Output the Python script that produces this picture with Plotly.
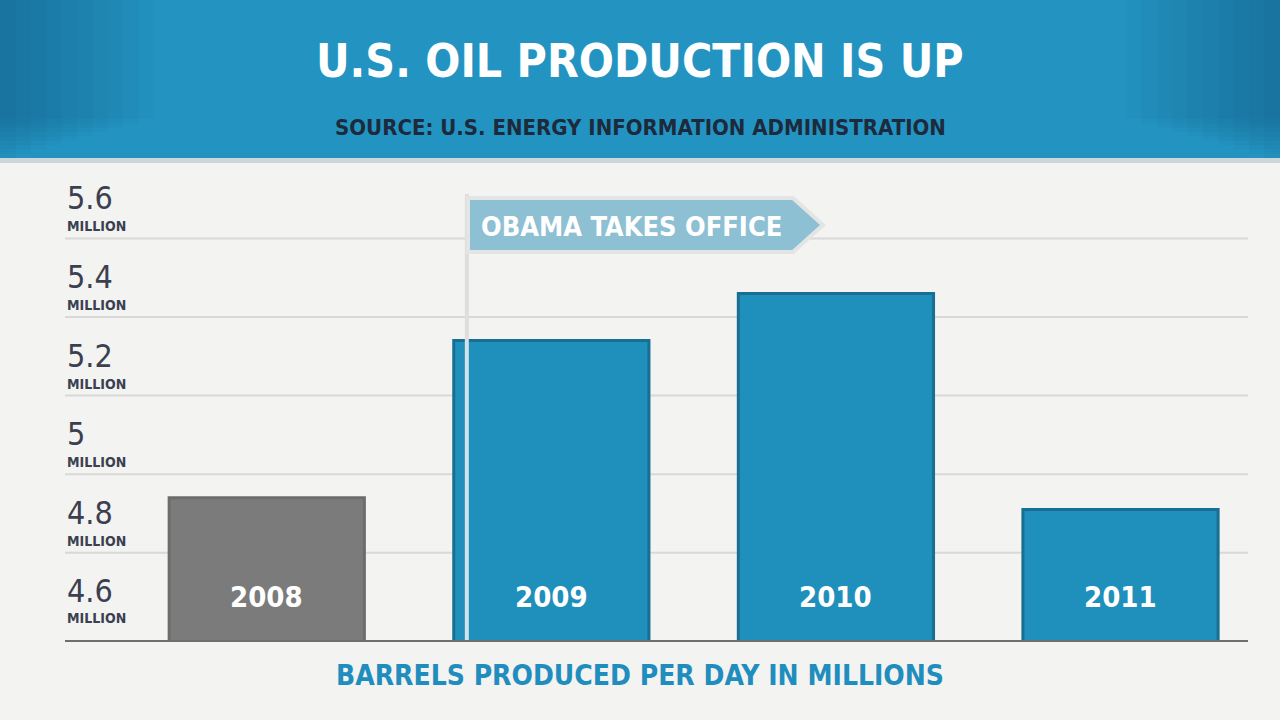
import plotly.graph_objects as go

# ---- data ----
years = ["2008", "2009", "2010", "2011"]
barrels_millions = [4.94, 5.34, 5.46, 4.91]
bar_colors = ["#7b7b7b", "#1f8fbb", "#1f8fbb", "#1f8fbb"]
bar_line_colors = ["#6c6c6c", "#196f93", "#196f93", "#196f93"]
tick_values = [4.6, 4.8, 5.0, 5.2, 5.4, 5.6]
tick_labels = ["4.6", "4.8", "5", "5.2", "5.4", "5.6"]
tick_unit = "MILLION"
grid_values = [4.8, 5.0, 5.2, 5.4, 5.6]
event_label = "OBAMA TAKES OFFICE"
event_x = 0.703

title = "U.S. OIL PRODUCTION IS UP"
subtitle = "SOURCE: U.S. ENERGY INFORMATION ADMINISTRATION"
footer = "BARRELS PRODUCED PER DAY IN MILLIONS"

Y_MIN, Y_MAX = 4.578, 5.774
FONT = "DejaVu Sans Condensed, Liberation Sans Narrow, sans-serif"

fig = go.Figure()
fig.add_trace(go.Bar(
    x=years, y=barrels_millions, width=0.686,
    marker=dict(color=bar_colors, line=dict(color=bar_line_colors, width=3)),
    hoverinfo="x+y", showlegend=False,
))

HB = 1 - 158 / 720
shapes = []
# header band
shapes.append(dict(type="rect", xref="paper", yref="paper", x0=0, x1=1, y0=HB, y1=1,
                   fillcolor="#2394c1", line=dict(width=0), layer="below"))
for i in range(10):
    w = 0.012 + 0.012 * i
    shapes.append(dict(type="rect", xref="paper", yref="paper", x0=0, x1=w, y0=HB + 0.006 * i, y1=1,
                       fillcolor="#0f4a6e", opacity=0.05, line=dict(width=0), layer="below"))
    shapes.append(dict(type="rect", xref="paper", yref="paper", x0=1 - w, x1=1, y0=HB + 0.006 * i, y1=1,
                       fillcolor="#0f4a6e", opacity=0.05, line=dict(width=0), layer="below"))
shapes.append(dict(type="rect", xref="paper", yref="paper", x0=0, x1=1, y0=1 - 163 / 720, y1=HB,
                   fillcolor="#cfd6d9", line=dict(width=0), layer="below"))
# grid lines
for g in grid_values:
    shapes.append(dict(type="line", xref="paper", yref="y", x0=65 / 1280, x1=1248 / 1280, y0=g, y1=g,
                       line=dict(color="#d8d8d6", width=2), layer="below"))
# event marker line
shapes.append(dict(type="line", xref="x", yref="paper", x0=event_x, x1=event_x, y0=0.1111, y1=1 - 194 / 720,
                   line=dict(color="#dedede", width=4), layer="above"))
shapes.append(dict(type="line", xref="x", yref="paper", x0=event_x, x1=event_x, y0=0.1111, y1=1 - 340 / 720,
                   line=dict(color="#bfeaf5", width=1.5), layer="above"))
# banner arrow
bx0, bx1, btip = 468 / 1280, 793 / 1280, 823 / 1280
by0, by1, bmid = 1 - 252 / 720, 1 - 198 / 720, 1 - 225 / 720
shapes.append(dict(type="path", xref="paper", yref="paper",
                   path=f"M {bx0} {by0} L {bx1} {by0} L {btip} {bmid} L {bx1} {by1} L {bx0} {by1} Z",
                   fillcolor="#8ec0d4", line=dict(color="#e3e4e4", width=4), layer="above"))

annotations = []
annotations.append(dict(text=f"<b>{title}</b>", xref="paper", yref="paper", x=0.5, y=1 - 61 / 720,
                        showarrow=False, font=dict(family=FONT, size=46, color="#ffffff"),
                        xanchor="center", yanchor="middle"))
annotations.append(dict(text=f"<b>{subtitle}</b>", xref="paper", yref="paper", x=0.5, y=1 - 127 / 720,
                        showarrow=False, font=dict(family=FONT, size=22, color="#1c2a3c"),
                        xanchor="center", yanchor="middle"))
annotations.append(dict(text=f"<b>{footer}</b>", xref="paper", yref="paper", x=0.5, y=1 - 675 / 720,
                        showarrow=False, font=dict(family=FONT, size=28, color="#1f8dbd"),
                        xanchor="center", yanchor="middle"))
annotations.append(dict(text=f"<b>{event_label}</b>", xref="paper", yref="paper", x=631 / 1280, y=1 - 226 / 720,
                        showarrow=False, font=dict(family=FONT, size=27, color="#ffffff"),
                        xanchor="center", yanchor="middle"))
for v, lab in zip(tick_values, tick_labels):
    base = max(v, Y_MIN)
    annotations.append(dict(text=lab, xref="paper", yref="y", x=65 / 1280, y=base, showarrow=False,
                            xanchor="left", yanchor="middle", yshift=40,
                            font=dict(family=FONT, size=32, color="#3b4050")))
    annotations.append(dict(text=f"<b>{tick_unit}</b>", xref="paper", yref="y", x=65 / 1280, y=base,
                            showarrow=False, xanchor="left", yanchor="middle",
                            yshift=12 if v != tick_values[0] else 13,
                            font=dict(family=FONT, size=14, color="#3b4050")))
for i, yr in enumerate(years):
    annotations.append(dict(text=f"<b>{yr}</b>", xref="x", yref="y", x=i, y=Y_MIN + 0.109,
                            showarrow=False, font=dict(family=FONT, size=29, color="#ffffff"),
                            xanchor="center", yanchor="middle"))

fig.update_layout(
    width=1280, height=720,
    margin=dict(l=0, r=0, t=0, b=0),
    paper_bgcolor="#f3f3f1", plot_bgcolor="rgba(0,0,0,0)",
    xaxis=dict(domain=[65 / 1280, 1248 / 1280], range=[-0.709, 3.448], showticklabels=False,
               showgrid=False, zeroline=False, showline=True, linecolor="#6f6f6f", linewidth=2,
               ticks="", fixedrange=True),
    yaxis=dict(domain=[80 / 720, 550 / 720], range=[Y_MIN, Y_MAX], showticklabels=False,
               showgrid=False, zeroline=False, fixedrange=True),
    shapes=shapes, annotations=annotations,
    font=dict(family=FONT),
)

fig.write_html("out.html")
